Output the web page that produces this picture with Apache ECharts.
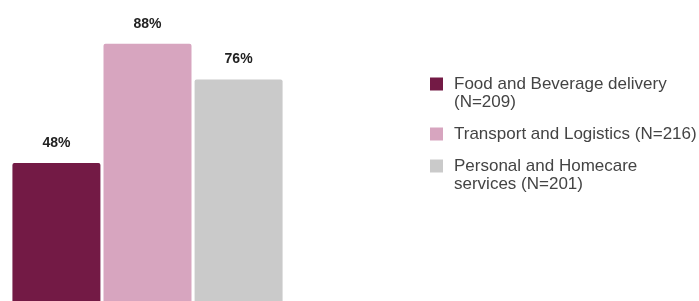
<!DOCTYPE html>
<html>
<head>
<meta charset="utf-8">
<script src="https://cdn.jsdelivr.net/npm/echarts@6/dist/echarts.min.js"></script>
<style>html,body{margin:0;padding:0;background:#fff;}#c{width:699px;height:301px;}</style>
</head>
<body>
<div id="c"></div>
<script>
var categories = ['Share'];
var seriesNames = ['Food and Beverage delivery\n(N=209)', 'Transport and Logistics (N=216)', 'Personal and Homecare\nservices (N=201)'];
var foodValues = [48];
var transportValues = [88];
var personalValues = [76];
var colors = ['#731A45', '#D7A5BF', '#CACACA'];

var iconTwoLine = 'path://M0,2.5h13v13h-13z M0,0 M19,36';
var iconOneLine = 'path://M0,11.5h13v13h-13z M0,0 M19,36';

var chart = echarts.init(document.getElementById('c'), null, {renderer: 'canvas'});
function mk(name, data, color) {
  return {
    name: name, type: 'bar', data: data, barWidth: 88, barGap: '3.5%',
    itemStyle: {color: color, borderRadius: [2, 2, 0, 0]},
    label: {show: true, position: 'top', distance: 13, formatter: '{c}%',
      fontFamily: 'Liberation Sans', fontWeight: 'bold', fontSize: 14, color: '#222'}
  };
}
chart.setOption({
  animation: false,
  grid: {left: 2, width: 291, top: 8, height: 298, containLabel: false, outerBoundsMode: 'none'},
  xAxis: {type: 'category', data: categories, show: false},
  yAxis: {type: 'value', min: 0, max: 100, show: false},
  legend: {
    orient: 'vertical', left: 430, top: 75, padding: 0, itemGap: 5,
    itemWidth: 19, itemHeight: 36,
    textStyle: {fontFamily: 'Liberation Sans', fontSize: 17, lineHeight: 18, color: '#444'},
    data: [
      {name: seriesNames[0], icon: iconTwoLine},
      {name: seriesNames[1], icon: iconOneLine},
      {name: seriesNames[2], icon: iconTwoLine}
    ]
  },
  series: [
    mk(seriesNames[0], foodValues, colors[0]),
    mk(seriesNames[1], transportValues, colors[1]),
    mk(seriesNames[2], personalValues, colors[2])
  ]
});
</script>
</body>
</html>
